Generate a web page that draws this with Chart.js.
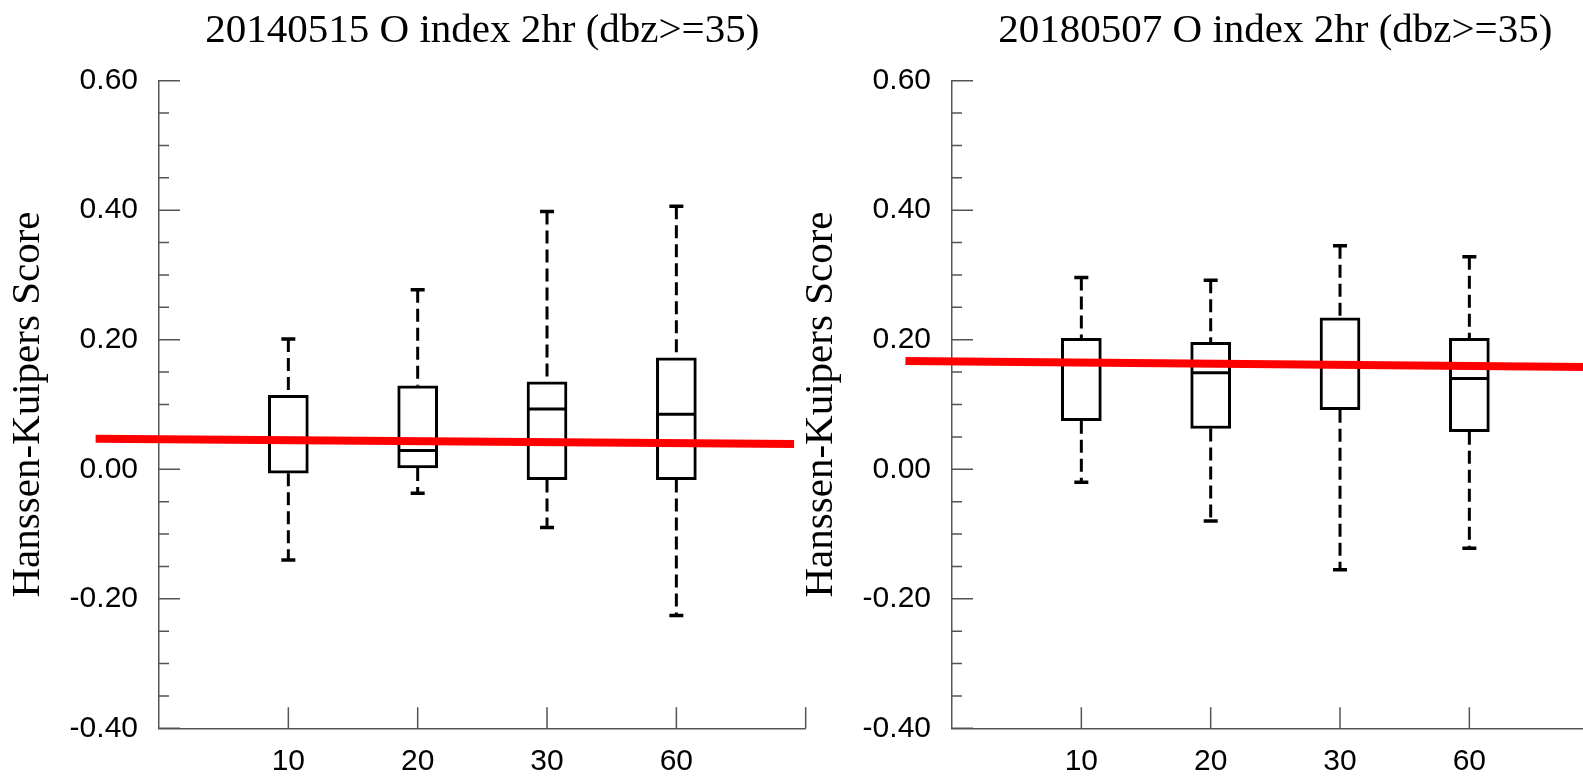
<!DOCTYPE html>
<html>
<head>
<meta charset="utf-8">
<script src="https://cdn.jsdelivr.net/npm/chart.js@4.4.1/dist/chart.umd.min.js"></script>
<style>
html, body { margin: 0; padding: 0; background: #fff; overflow: hidden; width: 1583px; height: 776px; }
.panel { position: absolute; top: 0; width: 812px; height: 776px; }
#leftPanel { left: 0; }
#rightPanel { left: 793px; }
</style>
</head>
<body>
<div class="panel" id="leftPanel"><canvas id="chart2014"></canvas></div>
<div class="panel" id="rightPanel"><canvas id="chart2018"></canvas></div>
<script>
// categories (x = 1..4 on a 0..5 axis)
const categories = ['10', '20', '30', '60'];
const yTicks = [-0.4, -0.2, 0, 0.2, 0.4, 0.6];

// 20140515
const min2014 = [-0.140, -0.037, -0.090, -0.226];
const q1_2014 = [-0.006, 0.002, -0.016, -0.016];
const med2014 = [0.046, 0.029, 0.093, 0.085];
const q3_2014 = [0.114, 0.129, 0.135, 0.172];
const max2014 = [0.201, 0.277, 0.398, 0.406];
const trendX2014 = [-0.49, 4.91];
const trendY2014 = [0.047, 0.039];

// 20180507
const min2018 = [-0.020, -0.080, -0.155, -0.122];
const q1_2018 = [0.075, 0.063, 0.092, 0.058];
const med2018 = [0.166, 0.149, 0.162, 0.140];
const q3_2018 = [0.202, 0.196, 0.234, 0.202];
const max2018 = [0.296, 0.292, 0.345, 0.328];
const trendX2018 = [-0.36, 4.9];
const trendY2018 = [0.167, 0.158];

const axisColor = '#555';

// NCL style ticks: inward, minor every 0.05
const inwardTicks = {
    id: 'inwardTicks',
    beforeDatasetsDraw(chart) {
        const ctx = chart.ctx;
        const xs = chart.scales.x;
        const ys = chart.scales.y;
        const area = chart.chartArea;
        ctx.save();
        ctx.strokeStyle = axisColor;
        ctx.lineWidth = 1.5;
        ctx.beginPath();
        for (let i = 0; i <= 20; i++) {
            let py = ys.getPixelForValue(-0.4 + i * 0.05);
            let len = (i % 4 === 0) ? 21 : 10;
            ctx.moveTo(area.left, py);
            ctx.lineTo(area.left + len, py);
        }
        for (let v = 1; v <= 5; v++) {
            let px = xs.getPixelForValue(v);
            ctx.moveTo(px, area.bottom);
            ctx.lineTo(px, area.bottom - 21);
        }
        ctx.stroke();
        ctx.restore();
    }
};

function drawPanel(canvasId, title, mins, q1s, meds, q3s, maxs, trendX, trendY) {
    let boxes = categories.map((c, i) => ({x: i + 1, y: [q1s[i], q3s[i]]}));
    let medians = categories.map((c, i) => ({x: i + 1, y: meds[i]}));
    let caps = [];
    let whiskers = [];
    categories.forEach((c, i) => {
        caps.push({x: i + 1, y: maxs[i]});
        caps.push({x: i + 1, y: mins[i]});
        whiskers.push({x: i + 1, y: maxs[i]}, {x: i + 1, y: q3s[i]}, {x: i + 1, y: null});
        whiskers.push({x: i + 1, y: q1s[i]}, {x: i + 1, y: mins[i]}, {x: i + 1, y: null});
    });
    let trend = trendX.map((x, i) => ({x: x, y: trendY[i]}));

    new Chart(document.getElementById(canvasId), {
        type: 'bar',
        data: {
            datasets: [
                {
                    type: 'line',
                    data: trend,
                    borderColor: '#ff0000',
                    borderWidth: 8,
                    pointRadius: 0,
                    borderCapStyle: 'butt',
                    clip: false,
                    order: 0,
                },
                {
                    type: 'line',
                    data: medians,
                    showLine: false,
                    pointStyle: 'line',
                    pointRadius: 19.5,
                    pointBorderWidth: 3,
                    pointBorderColor: '#000',
                    order: 1,
                },
                {
                    type: 'line',
                    data: caps,
                    showLine: false,
                    pointStyle: 'line',
                    pointRadius: 7,
                    pointBorderWidth: 3.5,
                    pointBorderColor: '#000',
                    order: 2,
                },
                {
                    type: 'bar',
                    data: boxes,
                    backgroundColor: '#fff',
                    borderColor: '#000',
                    borderWidth: 3,
                    borderSkipped: false,
                    barThickness: 40,
                    order: 3,
                },
                {
                    type: 'line',
                    data: whiskers,
                    borderColor: '#000',
                    borderWidth: 3,
                    borderDash: [13, 6],
                    pointRadius: 0,
                    spanGaps: false,
                    order: 4,
                },
            ]
        },
        options: {
            responsive: true,
            maintainAspectRatio: false,
            animation: false,
            events: [],
            layout: { autoPadding: false, padding: { left: 0, right: 6.3, top: 0, bottom: 0 } },
            plugins: {
                legend: { display: false },
                tooltip: { enabled: false },
                title: {
                    display: true,
                    fullSize: false,
                    text: title,
                    color: '#000',
                    font: { family: 'Liberation Serif', size: 41, weight: 'normal' },
                    padding: { top: 7, bottom: 24.5 },
                },
            },
            scales: {
                x: {
                    type: 'linear',
                    min: 0,
                    max: 5,
                    offset: false,
                    grid: { display: false, drawTicks: false, offset: false },
                    border: { display: true, color: axisColor, width: 1.5 },
                    afterBuildTicks: (scale) => { scale.ticks = categories.map((c, i) => ({value: i + 1})); },
                    afterFit: (scale) => {
                        scale.height = 47.7;
                        scale.paddingLeft = 0;
                        scale.paddingRight = 0;
                    },
                    ticks: {
                        color: '#000',
                        padding: 15.4,
                        maxRotation: 0,
                        font: { family: 'Liberation Sans', size: 30 },
                        callback: (value, index) => categories[index],
                    },
                },
                y: {
                    type: 'linear',
                    min: -0.4,
                    max: 0.6,
                    grid: { display: false, drawTicks: false },
                    border: { display: true, color: axisColor, width: 1.5 },
                    afterBuildTicks: (scale) => { scale.ticks = yTicks.map(v => ({value: v})); },
                    afterFit: (scale) => { scale.width = 159; },
                    ticks: {
                        color: '#000',
                        padding: 21,
                        font: { family: 'Liberation Sans', size: 30 },
                        callback: (value) => value.toFixed(2),
                    },
                    title: {
                        display: true,
                        text: 'Hanssen-Kuipers Score',
                        color: '#000',
                        font: { family: 'Liberation Serif', size: 41 },
                        padding: { top: 4, bottom: 0 },
                    },
                },
            },
        },
        plugins: [inwardTicks],
    });
}

drawPanel('chart2014', '20140515 O index 2hr (dbz>=35)', min2014, q1_2014, med2014, q3_2014, max2014, trendX2014, trendY2014);
drawPanel('chart2018', '20180507 O index 2hr (dbz>=35)', min2018, q1_2018, med2018, q3_2018, max2018, trendX2018, trendY2018);
</script>
</body>
</html>
